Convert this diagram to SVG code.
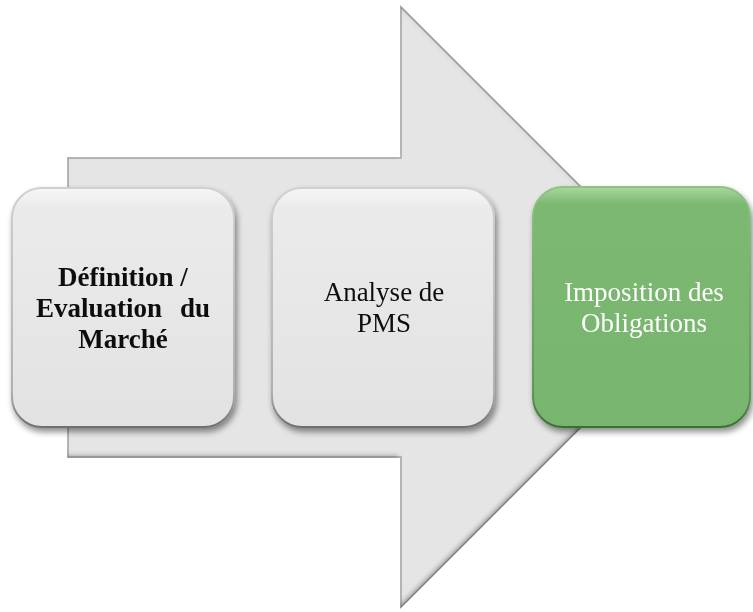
<svg xmlns="http://www.w3.org/2000/svg" width="753" height="612" viewBox="0 0 753 612">
<defs>
<style>
.box{stroke-width:2}
.grey{fill:url(#gGrey);stroke:url(#sGrey)}
.green{fill:url(#gGreen);stroke:url(#sGreen)}
.t{font-family:"Liberation Serif","Times New Roman",serif;font-size:27px;text-anchor:middle}
.dark{fill:#111}
.light{fill:#fff}
</style>
<linearGradient id="gGrey" x1="0" y1="0" x2="0" y2="1">
<stop offset="0" stop-color="#f6f6f6"/>
<stop offset="0.08" stop-color="#ebebeb"/>
<stop offset="1" stop-color="#e2e2e2"/>
</linearGradient>
<linearGradient id="sGrey" x1="0" y1="0" x2="0" y2="1">
<stop offset="0" stop-color="#d0d0d0"/>
<stop offset="0.85" stop-color="#b0b0b0"/>
<stop offset="1" stop-color="#6f6f6f"/>
</linearGradient>
<linearGradient id="gGreen" x1="0" y1="0" x2="0" y2="1">
<stop offset="0" stop-color="#a8d89e"/>
<stop offset="0.07" stop-color="#7cb872"/>
<stop offset="1" stop-color="#78b56e"/>
</linearGradient>
<linearGradient id="sGreen" x1="0" y1="0" x2="0" y2="1">
<stop offset="0" stop-color="#8cc482"/>
<stop offset="0.85" stop-color="#5f9a55"/>
<stop offset="1" stop-color="#3d6e35"/>
</linearGradient>
<filter id="shadow" x="-10%" y="-10%" width="125%" height="125%">
<feGaussianBlur in="SourceAlpha" stdDeviation="3"/>
<feOffset dx="2" dy="4" result="b"/>
<feComponentTransfer><feFuncA type="linear" slope="0.45"/></feComponentTransfer>
<feMerge><feMergeNode/><feMergeNode in="SourceGraphic"/></feMerge>
</filter>
<filter id="bevel" x="-5%" y="-5%" width="110%" height="110%">
<feGaussianBlur in="SourceAlpha" stdDeviation="2.5" result="blur"/>
<feOffset in="blur" dx="-2" dy="-2" result="off"/>
<feComposite in="SourceAlpha" in2="off" operator="out" result="edge"/>
<feFlood flood-color="#6a6a6a" flood-opacity="0.8"/>
<feComposite in2="edge" operator="in" result="dk"/>
<feMerge><feMergeNode in="SourceGraphic"/><feMergeNode in="dk"/></feMerge>
</filter>
</defs>

<g id="arrow">
<path d="M68,158 H401 V7 L701,307 L401,607 V457 H68 Z" fill="#e5e5e5" stroke="#a8a8a8" stroke-width="1.5" filter="url(#bevel)"/>
</g>

<g id="node-definition" filter="url(#shadow)">
<rect class="box grey" x="12" y="188" width="222" height="239" rx="30"/>
<text class="t dark" font-weight="bold" x="123" y="286">Définition /</text>
<text class="t dark" font-weight="bold" x="36" y="317" style="text-anchor:start">Evaluation</text>
<text class="t dark" font-weight="bold" x="210" y="317" style="text-anchor:end">du</text>
<text class="t dark" font-weight="bold" x="123" y="348">Marché</text>
</g>

<g id="node-analyse" filter="url(#shadow)">
<rect class="box grey" x="272" y="188" width="222" height="239" rx="30"/>
<text class="t dark" x="384" y="301">Analyse de</text>
<text class="t dark" x="384" y="332">PMS</text>
</g>

<g id="node-imposition" filter="url(#shadow)">
<rect class="box green" x="533" y="187" width="217" height="240" rx="30"/>
<text class="t light" x="644" y="301">Imposition des</text>
<text class="t light" x="644" y="332">Obligations</text>
</g>

<g id="connectors"></g>
</svg>
